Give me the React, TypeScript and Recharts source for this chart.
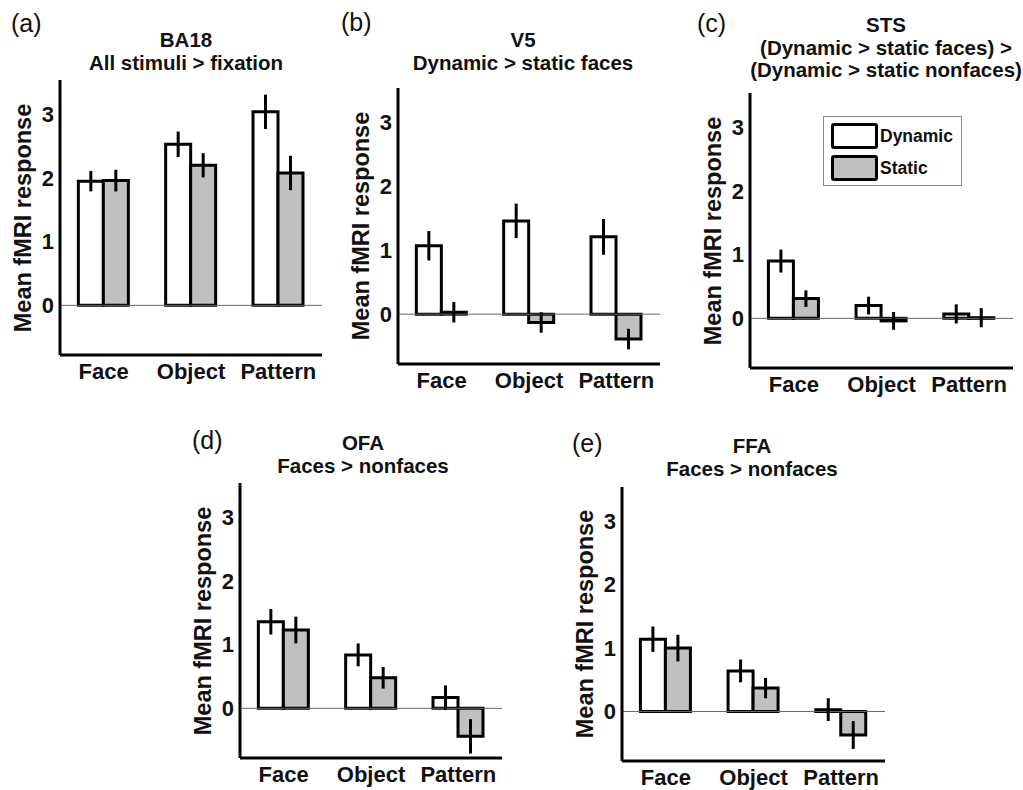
import React from 'react';
import { BarChart, Bar, XAxis, YAxis, ReferenceLine, ErrorBar } from 'recharts';

const categories = ['Face', 'Object', 'Pattern'];
const yTicks = [0, 1, 2, 3];
const yDomain = [-0.78, 3.54];

// BA18 - All stimuli > fixation
const ba18Dynamic = [1.95, 2.53, 3.04];
const ba18DynamicErr = [0.16, 0.2, 0.27];
const ba18Static = [1.96, 2.2, 2.08];
const ba18StaticErr = [0.17, 0.19, 0.27];

// V5 - Dynamic > static faces
const v5Dynamic = [1.07, 1.46, 1.21];
const v5DynamicErr = [0.23, 0.27, 0.28];
const v5Static = [0.03, -0.13, -0.39];
const v5StaticErr = [0.16, 0.16, 0.16];

// STS
const stsDynamic = [0.9, 0.2, 0.07];
const stsDynamicErr = [0.18, 0.14, 0.15];
const stsStatic = [0.31, -0.04, 0.01];
const stsStaticErr = [0.13, 0.14, 0.15];

// OFA - Faces > nonfaces
const ofaDynamic = [1.36, 0.84, 0.17];
const ofaDynamicErr = [0.2, 0.18, 0.19];
const ofaStatic = [1.23, 0.48, -0.44];
const ofaStaticErr = [0.21, 0.17, 0.27];

// FFA - Faces > nonfaces
const ffaDynamic = [1.14, 0.64, 0.03];
const ffaDynamicErr = [0.2, 0.18, 0.18];
const ffaStatic = [1.0, 0.37, -0.37];
const ffaStaticErr = [0.21, 0.16, 0.22];

const FONT = '"Liberation Sans", Arial, Helvetica, sans-serif';
const GREY = '#c0c0c0';

const makeRows = (dyn: number[], dynErr: number[], sta: number[], staErr: number[]) =>
  categories.map((cat, i) => ({ cat, dyn: dyn[i], dynErr: dynErr[i], sta: sta[i], staErr: staErr[i] }));

type PanelProps = {
  left: number; top: number; w: number; h: number;
  rows: any[];
  tag: string; tagX: number; tagY: number;
  title: string[]; titleX: number; titleY: number;
};

const Panel = ({ left, top, w, h, rows, tag, tagX, tagY, title, titleX, titleY }: PanelProps) => {
  return (
    <>
      <div style={{ position: 'absolute', left: tagX, top: tagY - 14, fontSize: 25, lineHeight: '28px', fontFamily: FONT, color: '#111' }}>
        {tag}
      </div>
      <div style={{
        position: 'absolute', left: titleX - 200, top: titleY - 11, width: 400, textAlign: 'center',
        fontSize: 20.5, fontWeight: 'bold', lineHeight: '22.5px', fontFamily: FONT, color: '#111'
      }}>
        {title.map((t) => <div key={t}>{t}</div>)}
      </div>
      <div style={{
        position: 'absolute', left: left - 37 - 150, top: top + h / 2 - 14, width: 300, height: 28,
        textAlign: 'center', fontSize: 23.5, fontWeight: 'bold', lineHeight: '28px', fontFamily: FONT,
        color: '#111', transform: 'rotate(-90deg)'
      }}>
        Mean fMRI response
      </div>
      <div style={{ position: 'absolute', left: left - 60, top: top - 10 }}>
        <BarChart
          width={w + 70}
          height={h + 55}
          data={rows}
          margin={{ top: 10, right: 10, left: 0, bottom: 0 }}
          barCategoryGap="21%"
          barGap={0}
        >
          <XAxis
            dataKey="cat"
            height={45}
            interval={0}
            axisLine={{ stroke: '#000', strokeWidth: 3 }}
            tickLine={false}
            tickSize={0}
            tickMargin={8}
            tick={{ fill: '#111', fontSize: 22, fontWeight: 'bold', fontFamily: FONT }}
          />
          <YAxis
            width={60}
            domain={yDomain}
            ticks={yTicks}
            allowDataOverflow
            axisLine={{ stroke: '#000', strokeWidth: 3 }}
            tickLine={false}
            tickSize={0}
            tickMargin={6}
            tick={{ fill: '#111', fontSize: 22, fontWeight: 'bold', fontFamily: FONT }}
          />
          <ReferenceLine y={0} stroke="#666" strokeWidth={1} />
          <Bar dataKey="dyn" fill="#fff" stroke="#000" strokeWidth={3} isAnimationActive={false}>
            <ErrorBar dataKey="dynErr" width={0} stroke="#000" strokeWidth={3} isAnimationActive={false} />
          </Bar>
          <Bar dataKey="sta" fill={GREY} stroke="#000" strokeWidth={3} isAnimationActive={false}>
            <ErrorBar dataKey="staErr" width={0} stroke="#000" strokeWidth={3} isAnimationActive={false} />
          </Bar>
        </BarChart>
      </div>
    </>
  );
};

const swatch = (fill: string) => ({
  width: 41, height: 20, border: '3px solid #000', borderRadius: 3, background: fill, boxSizing: 'content-box' as const
});

const App = () => {
  return (
    <div style={{ position: 'absolute', left: 0, top: 0, width: 1023, height: 790, background: '#fff', overflow: 'hidden' }}>
      <Panel left={60} top={80} w={262} h={275} rows={makeRows(ba18Dynamic, ba18DynamicErr, ba18Static, ba18StaticErr)}
        tag="(a)" tagX={11} tagY={23} title={['BA18', 'All stimuli > fixation']} titleX={186} titleY={40} />
      <Panel left={398} top={88} w={262} h={276} rows={makeRows(v5Dynamic, v5DynamicErr, v5Static, v5StaticErr)}
        tag="(b)" tagX={341} tagY={22} title={['V5', 'Dynamic > static faces']} titleX={523} titleY={40} />
      <Panel left={750} top={93} w={263} h={275} rows={makeRows(stsDynamic, stsDynamicErr, stsStatic, stsStaticErr)}
        tag="(c)" tagX={697} tagY={23} title={['STS', '(Dynamic > static faces) >', '(Dynamic > static nonfaces)']} titleX={886} titleY={25} />
      <Panel left={240} top={483} w={262} h={275} rows={makeRows(ofaDynamic, ofaDynamicErr, ofaStatic, ofaStaticErr)}
        tag="(d)" tagX={192} tagY={440} title={['OFA', 'Faces > nonfaces']} titleX={363} titleY={443} />
      <Panel left={622} top={487} w={263} h={274} rows={makeRows(ffaDynamic, ffaDynamicErr, ffaStatic, ffaStaticErr)}
        tag="(e)" tagX={572} tagY={443} title={['FFA', 'Faces > nonfaces']} titleX={752} titleY={446} />

      <div style={{
        position: 'absolute', left: 823, top: 116, width: 139, height: 70, border: '1px solid #888',
        background: '#fff', fontFamily: FONT, fontWeight: 'bold', fontSize: 17.5, color: '#111', boxSizing: 'border-box'
      }}>
        <div style={{ position: 'absolute', left: 7, top: 6, display: 'flex', alignItems: 'center' }}>
          <div style={swatch('#fff')} />
          <span style={{ marginLeft: 2 }}>Dynamic</span>
        </div>
        <div style={{ position: 'absolute', left: 7, top: 38, display: 'flex', alignItems: 'center' }}>
          <div style={swatch(GREY)} />
          <span style={{ marginLeft: 2 }}>Static</span>
        </div>
      </div>
    </div>
  );
};

export default App;
